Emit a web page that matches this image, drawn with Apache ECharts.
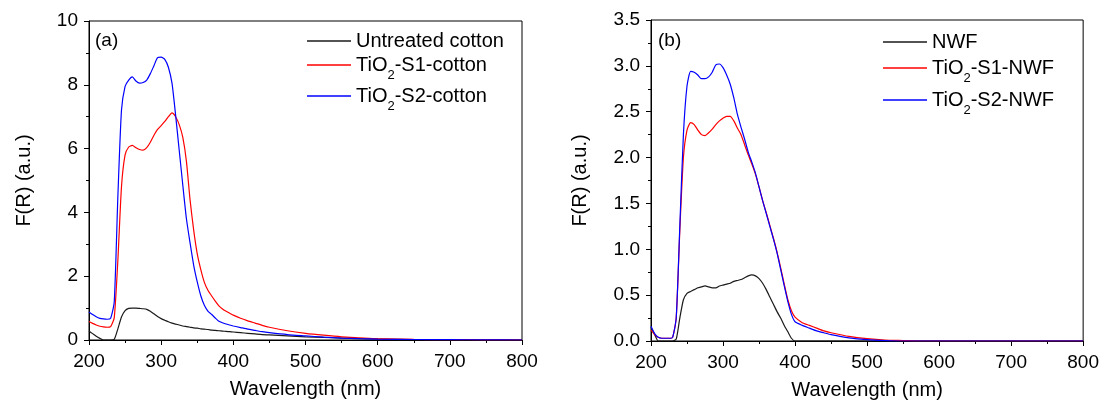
<!DOCTYPE html>
<html>
<head>
<meta charset="utf-8">
<script src="https://cdn.jsdelivr.net/npm/echarts@6/dist/echarts.min.js"></script>
<style>
  html, body { margin: 0; padding: 0; background: #fff; }
  #chart { width: 1102px; height: 405px; }
</style>
</head>
<body>
<div id="chart"></div>
<script>
// wavelength grid (nm), shared by both panels
const wavelength = [200,205,210,215,220,225,230,235,240,245,250,255,260,265,270,275,280,285,290,295,
  300,305,310,315,320,325,330,335,340,345,350,355,360,365,370,375,380,385,390,395,
  400,410,420,430,440,450,475,500,525,550,575,600,650,700,750,800];

// (a) cotton
const untreatedCotton = [0.28,0.2,0.12,0.05,0,0,0,0.02,0.35,0.72,0.92,0.99,1.0,1.0,0.99,0.98,0.96,0.9,0.82,0.74,
  0.67,0.62,0.57,0.53,0.5,0.47,0.44,0.42,0.4,0.38,0.37,0.35,0.34,0.33,0.31,0.3,0.29,0.28,0.27,0.26,
  0.25,0.23,0.21,0.19,0.17,0.16,0.13,0.1,0.08,0.06,0.04,0.03,0.015,0.005,0,0];
const s1Cotton = [0.58,0.52,0.47,0.43,0.41,0.4,0.42,0.7,2.5,4.8,5.8,6.05,6.1,6.03,5.97,5.95,6.03,6.2,6.42,6.6,
  6.72,6.85,7.0,7.12,7.0,6.75,6.35,5.6,4.4,3.45,2.7,2.2,1.8,1.55,1.38,1.22,1.07,0.97,0.9,0.84,
  0.78,0.68,0.6,0.53,0.46,0.4,0.29,0.21,0.15,0.1,0.07,0.04,0.02,0.01,0.005,0];
const s2Cotton = [0.88,0.8,0.73,0.68,0.66,0.65,0.68,1.2,4.5,7.2,7.95,8.15,8.25,8.12,8.05,8.07,8.15,8.35,8.6,8.85,
  8.87,8.8,8.55,8.05,7.05,5.95,4.85,3.8,3.05,2.35,1.82,1.38,1.08,0.9,0.8,0.69,0.59,0.54,0.5,0.47,
  0.44,0.39,0.34,0.3,0.26,0.23,0.17,0.13,0.09,0.06,0.04,0.03,0.015,0.01,0.005,0];

// (b) NWF
const nwf = [0.15,0.07,0,0,0,0,0,0.02,0.25,0.45,0.52,0.54,0.56,0.58,0.59,0.6,0.59,0.58,0.58,0.6,
  0.61,0.62,0.63,0.65,0.66,0.67,0.69,0.71,0.72,0.71,0.68,0.63,0.56,0.48,0.4,0.32,0.25,0.17,0.1,0.03,
  0,0,0,0,0,0,0,0,0,0,0,0,0,0,0,0];
const s1Nwf = [0.12,0.07,0.04,0.03,0.03,0.03,0.04,0.25,1.2,2.0,2.3,2.38,2.36,2.3,2.25,2.24,2.27,2.31,2.36,2.4,
  2.43,2.45,2.45,2.4,2.32,2.25,2.14,2.03,1.93,1.82,1.68,1.53,1.4,1.26,1.12,0.97,0.8,0.62,0.45,0.33,
  0.26,0.2,0.17,0.14,0.11,0.09,0.05,0.025,0.01,0.005,0,0,0,0,0,0];
const s2Nwf = [0.16,0.08,0.04,0.03,0.03,0.03,0.04,0.25,1.25,2.25,2.78,2.94,2.93,2.9,2.86,2.86,2.88,2.93,3.01,3.02,
  2.98,2.9,2.8,2.65,2.47,2.33,2.2,2.06,1.95,1.83,1.68,1.53,1.39,1.25,1.11,0.96,0.78,0.6,0.43,0.29,
  0.21,0.17,0.14,0.11,0.09,0.07,0.035,0.015,0.005,0,0,0,0,0,0,0];

const xTicks = { min: 200, max: 800, interval: 100 };
const yTicksA = { min: 0, max: 10, interval: 2 };
const yTicksB = { min: 0, max: 3.5, interval: 0.5 };

const namesA = ['Untreated cotton', 'TiO{sub|2}-S1-cotton', 'TiO{sub|2}-S2-cotton'];
const namesB = ['NWF', 'TiO{sub|2}-S1-NWF', 'TiO{sub|2}-S2-NWF'];
const colors = ['#1a1a1a', '#ff0000', '#0000ff'];

const font = 'Liberation Sans, Arial, sans-serif';

function pairs(ys) {
  return wavelength.map((x, i) => [x, ys[i]]);
}

function xAxis(idx) {
  return {
    type: 'value', gridIndex: idx, min: xTicks.min, max: xTicks.max, interval: xTicks.interval,
    name: 'Wavelength (nm)', nameLocation: 'middle', nameGap: 39,
    nameTextStyle: { fontFamily: font, fontSize: 20, color: '#000' },
    axisLine: { lineStyle: { color: '#000', width: 1 } },
    axisTick: { length: 5, lineStyle: { color: '#000' } },
    minorTick: { show: true, splitNumber: 2, length: 3, lineStyle: { color: '#000' } },
    axisLabel: { fontFamily: font, fontSize: 19, color: '#000', margin: 12 },
    splitLine: { show: false }
  };
}

function yAxis(idx, t, fmt) {
  return {
    type: 'value', gridIndex: idx, min: t.min, max: t.max, interval: t.interval,
    name: 'F(R) (a.u.)', nameLocation: 'middle', nameGap: fmt ? 61 : 55, nameRotate: 90,
    nameTextStyle: { fontFamily: font, fontSize: 20, color: '#000' },
    axisLine: { show: true, lineStyle: { color: '#000', width: 1 } },
    axisTick: { show: true, length: 5, lineStyle: { color: '#000' } },
    minorTick: { show: true, splitNumber: 2, length: 3, lineStyle: { color: '#000' } },
    axisLabel: { fontFamily: font, fontSize: 19, color: '#000', margin: 11,
      formatter: fmt ? (v => v.toFixed(1)) : null },
    splitLine: { show: false }
  };
}

// one legend per row, so the rows with a subscript can sit lower
function legendRow(name, left, top) {
  return {
    data: [name], left: left, top: top, padding: 0, itemWidth: 44, itemHeight: 1.5, icon: 'rect',
    itemGap: 6,
    formatter: n => '{m|' + n.replace('{sub|2}', '}{sub|2}{m|') + '}',
    textStyle: {
      fontFamily: font, fontSize: 20, color: '#000',
      rich: {
        m: { fontFamily: font, fontSize: 20, lineHeight: 20, color: '#000', verticalAlign: 'middle' },
        sub: { fontFamily: font, fontSize: 13, lineHeight: 13, color: '#000', verticalAlign: 'middle', padding: [20, 0, 0, 0] }
      }
    }
  };
}

function lines(names, data, x, y) {
  return names.map((n, i) => ({
    name: n, type: 'line', xAxisIndex: x, yAxisIndex: y, data: pairs(data[i]),
    symbol: 'none', smooth: 0.2, color: colors[i],
    lineStyle: { width: 1.2, color: colors[i] }
  }));
}

const chart = echarts.init(document.getElementById('chart'));
chart.setOption({
  animation: false,
  backgroundColor: '#fff',
  title: [
    { text: '(a)', left: 95, top: 31, padding: 0, textStyle: { fontFamily: font, fontSize: 19, fontWeight: 'normal', color: '#000' } },
    { text: '(b)', left: 658, top: 31, padding: 0, textStyle: { fontFamily: font, fontSize: 19, fontWeight: 'normal', color: '#000' } }
  ],
  grid: [
    { left: 89, top: 21, width: 433, height: 319, show: true, borderColor: '#000', borderWidth: 1 },
    { left: 651, top: 20, width: 433, height: 321, show: true, borderColor: '#000', borderWidth: 1 }
  ],
  legend: [
    legendRow(namesA[0], 307, 31), legendRow(namesA[1], 307, 48.5), legendRow(namesA[2], 307, 79.5),
    legendRow(namesB[0], 883, 32), legendRow(namesB[1], 883, 51.5), legendRow(namesB[2], 883, 83.5)
  ],
  xAxis: [xAxis(0), xAxis(1)],
  yAxis: [yAxis(0, yTicksA, false), yAxis(1, yTicksB, true)],
  series: [
    ...lines(namesA, [untreatedCotton, s1Cotton, s2Cotton], 0, 0),
    ...lines(namesB, [nwf, s1Nwf, s2Nwf], 1, 1)
  ]
});
</script>
</body>
</html>
